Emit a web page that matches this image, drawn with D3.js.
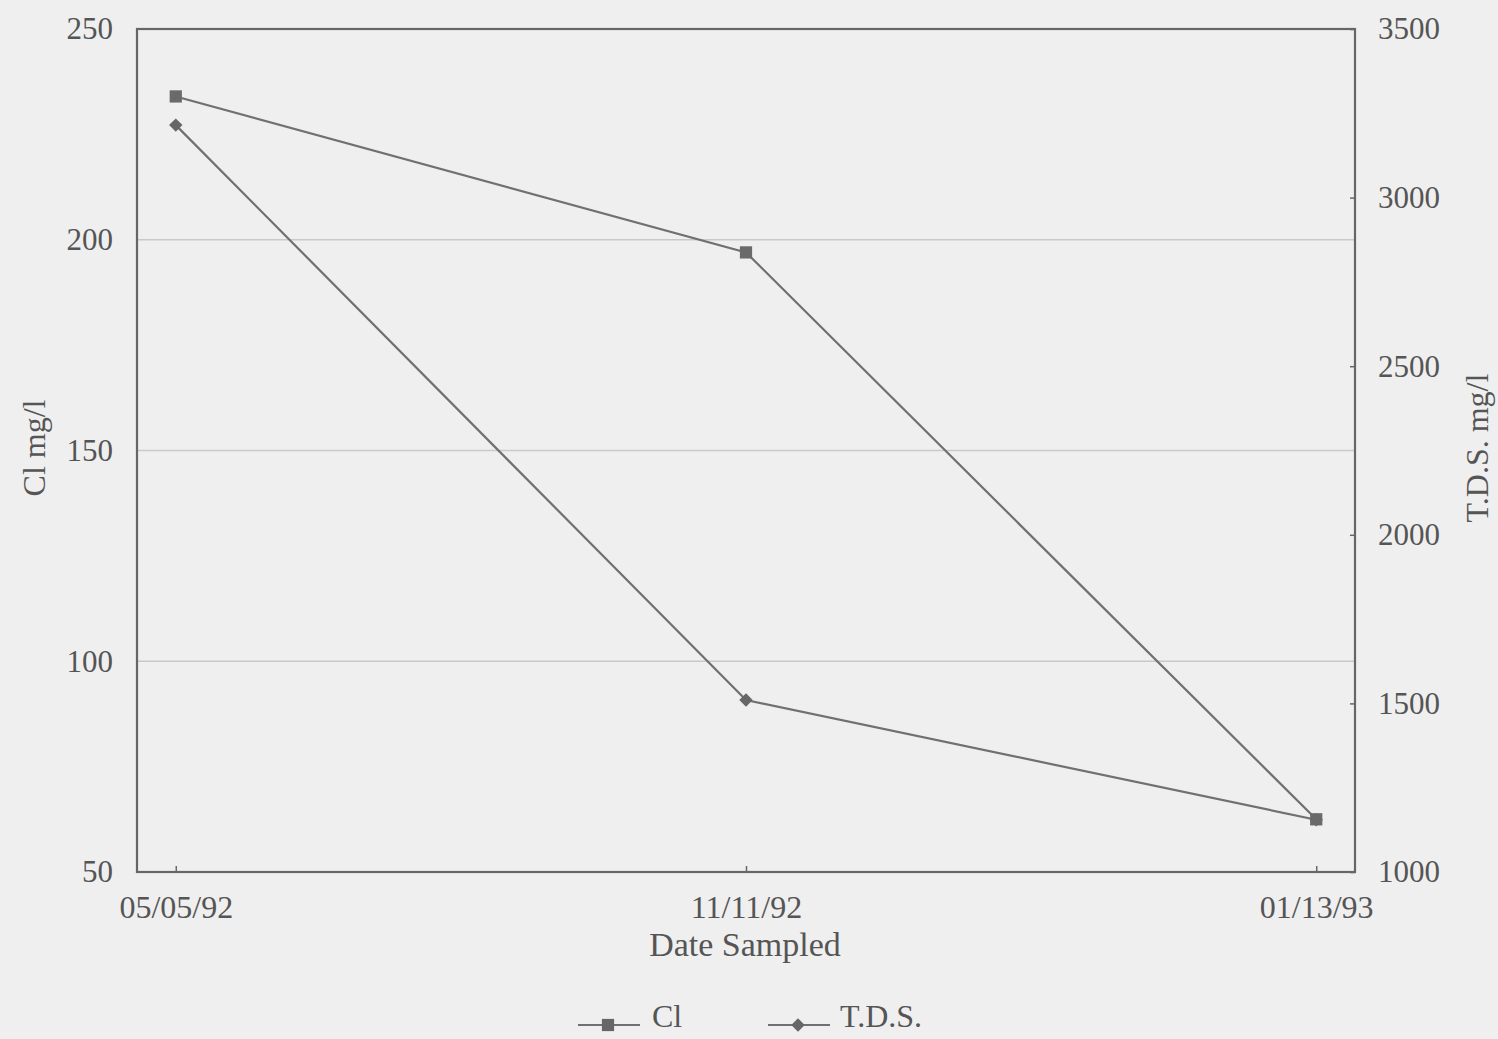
<!DOCTYPE html>
<html>
<head>
<meta charset="utf-8">
<script src="https://cdn.jsdelivr.net/npm/d3@7"></script>
<style>
html,body{margin:0;padding:0;background:#efefef;}
text{font-family:"Liberation Serif","Times New Roman",serif;fill:#555;}
</style>
</head>
<body>
<script>
const categories = ["05/05/92", "11/11/92", "01/13/93"];
const clValues = [234, 197, 62.5];
const tdsValues = [3215, 1510, 1155];
const leftTicks = [50, 100, 150, 200, 250];
const rightTicks = [1000, 1500, 2000, 2500, 3000, 3500];
const seriesNames = ["Cl", "T.D.S."];

const W = 1498, H = 1039;
const m = {left: 137, right: 1355, top: 29, bottom: 872};
const svg = d3.select("body").append("svg").attr("width", W).attr("height", H);
svg.append("rect").attr("width", W).attr("height", H).attr("fill", "#efefef");

const x = d3.scalePoint().domain(categories).range([m.left, m.right]).padding(0.068);
const yL = d3.scaleLinear().domain([50, 250]).range([m.bottom, m.top]);
const yR = d3.scaleLinear().domain([1000, 3500]).range([m.bottom, m.top]);

const lineCol = "#707070";
const frameCol = "#666";

// gridlines
svg.append("g").selectAll("line").data(leftTicks.slice(1, -1)).join("line")
  .attr("x1", m.left).attr("x2", m.right)
  .attr("y1", d => yL(d)).attr("y2", d => yL(d))
  .attr("stroke", "#c9c9c9").attr("stroke-width", 1.5);

// axes
const axL = svg.append("g").attr("transform", `translate(${m.left},0)`)
  .call(d3.axisLeft(yL).tickValues(leftTicks).tickSize(0).tickPadding(24));
const axR = svg.append("g").attr("transform", `translate(${m.right},0)`)
  .call(d3.axisRight(yR).tickValues(rightTicks).tickFormat(d3.format("d")).tickSize(-5).tickPadding(23));
const axB = svg.append("g").attr("transform", `translate(0,${m.bottom})`)
  .call(d3.axisBottom(x).tickSize(-6).tickPadding(20));
[axL, axR, axB].forEach(a => {
  a.select(".domain").remove();
  a.selectAll("line").attr("stroke", frameCol).attr("stroke-width", 1.5);
  a.selectAll("text").attr("font-size", 31).attr("fill", "#555")
    .attr("font-family", '"Liberation Serif","Times New Roman",serif');
});
axB.selectAll("text").attr("font-size", 32).attr("dy", "0.8em");

// frame
svg.append("rect").attr("x", m.left).attr("y", m.top)
  .attr("width", m.right - m.left).attr("height", m.bottom - m.top)
  .attr("fill", "none").attr("stroke", frameCol).attr("stroke-width", 2.2);

// lines
const lineCl = d3.line().x((d, i) => x(categories[i])).y(d => yL(d));
const lineTds = d3.line().x((d, i) => x(categories[i])).y(d => yR(d));
svg.append("path").datum(clValues).attr("d", lineCl)
  .attr("fill", "none").attr("stroke", lineCol).attr("stroke-width", 2.2);
svg.append("path").datum(tdsValues).attr("d", lineTds)
  .attr("fill", "none").attr("stroke", lineCol).attr("stroke-width", 2.2);

const sq = d3.symbol().type(d3.symbolSquare).size(150);
const dm = d3.symbol().type(d3.symbolSquare).size(90);
svg.append("g").selectAll("path").data(tdsValues).join("path")
  .attr("d", dm).attr("transform", (d, i) => `translate(${x(categories[i])},${yR(d)}) rotate(45)`)
  .attr("fill", "#666");
svg.append("g").selectAll("path").data(clValues).join("path")
  .attr("d", sq).attr("transform", (d, i) => `translate(${x(categories[i])},${yL(d)})`)
  .attr("fill", "#6a6a6a");

// axis titles
svg.append("text").attr("transform", "translate(45,448) rotate(-90)")
  .attr("text-anchor", "middle").attr("font-size", 32).text("Cl mg/l");
svg.append("text").attr("transform", "translate(1488,448) rotate(-90)")
  .attr("text-anchor", "middle").attr("font-size", 32).text("T.D.S. mg/l");
svg.append("text").attr("x", 745).attr("y", 956)
  .attr("text-anchor", "middle").attr("font-size", 34).text("Date Sampled");

// legend
const leg = [{x0: 578, sym: sq, rot: 0, tx: 652}, {x0: 768, sym: dm, rot: 45, tx: 840}];
leg.forEach((l, i) => {
  const g = svg.append("g");
  g.append("line").attr("x1", l.x0).attr("x2", l.x0 + 62).attr("y1", 1025).attr("y2", 1025)
    .attr("stroke", lineCol).attr("stroke-width", 2.2);
  g.append("path").attr("d", l.sym).attr("transform", `translate(${l.x0 + 30},1025) rotate(${l.rot})`).attr("fill", "#666");
  g.append("text").attr("x", l.tx).attr("y", 1027).attr("font-size", 32).text(seriesNames[i]);
});
</script>
</body>
</html>
